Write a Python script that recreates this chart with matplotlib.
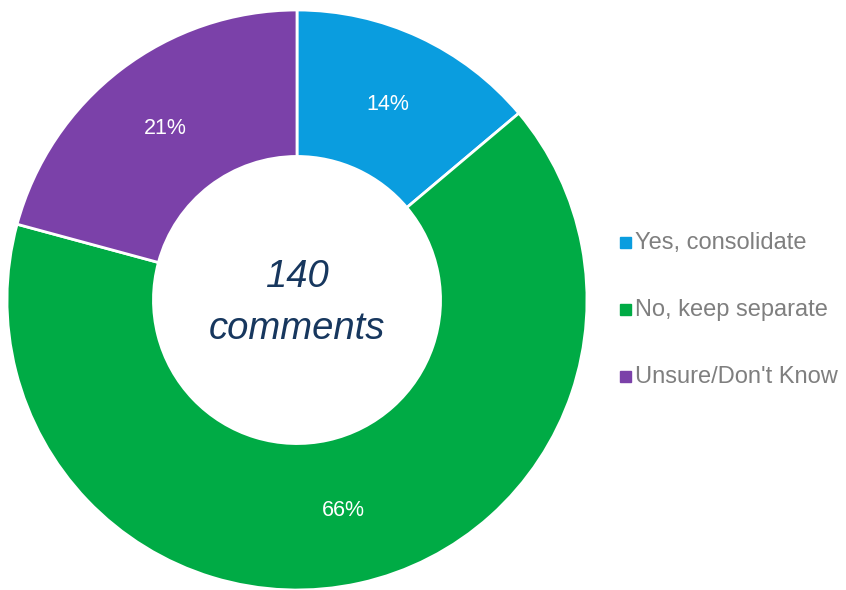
import matplotlib.pyplot as plt

labels = ['Yes, consolidate', 'No, keep separate', "Unsure/Don't Know"]
values = [14, 66, 21]
colors = ['#0A9DDF', '#00AB45', '#7B41A9']
center_text = '140\ncomments'

plt.rcParams['font.family'] = ['Liberation Sans', 'DejaVu Sans']

fig = plt.figure(figsize=(8.46, 5.9), dpi=100)
cx, cy, r = 297, 300, 290
ax = fig.add_axes([(cx - r) / 846, (590 - cy - r) / 590, 2 * r / 846, 2 * r / 590])

wedges, texts, autotexts = ax.pie(
    values, colors=colors, startangle=90, counterclock=False,
    autopct=lambda p: f'{p:.0f}%', pctdistance=0.745, radius=1.0,
    wedgeprops=dict(width=0.505, edgecolor='white', linewidth=2))
for t, v in zip(autotexts, values):
    t.set_text(f'{v}%')
    t.set_color('white')
    t.set_fontsize(15.5)

ax.text(0, -0.01, center_text, ha='center', va='center', fontsize=27.5,
        style='italic', color='#17375E', linespacing=1.55)
ax.set_xlim(-1, 1)
ax.set_ylim(-1, 1)
ax.set_aspect('equal')

# legend
ys = [243, 310, 377]
for lab, col, y in zip(labels, colors, ys):
    fig.patches.append(plt.Rectangle((620 / 846, 1 - (y + 5) / 590), 11 / 846, 11 / 590,
                                     transform=fig.transFigure, color=col))
    fig.text(635 / 846, 1 - y / 590, lab, fontsize=17, color='#7F7F7F',
             ha='left', va='center')

fig.savefig('out.png', dpi=100)
plt.close()
